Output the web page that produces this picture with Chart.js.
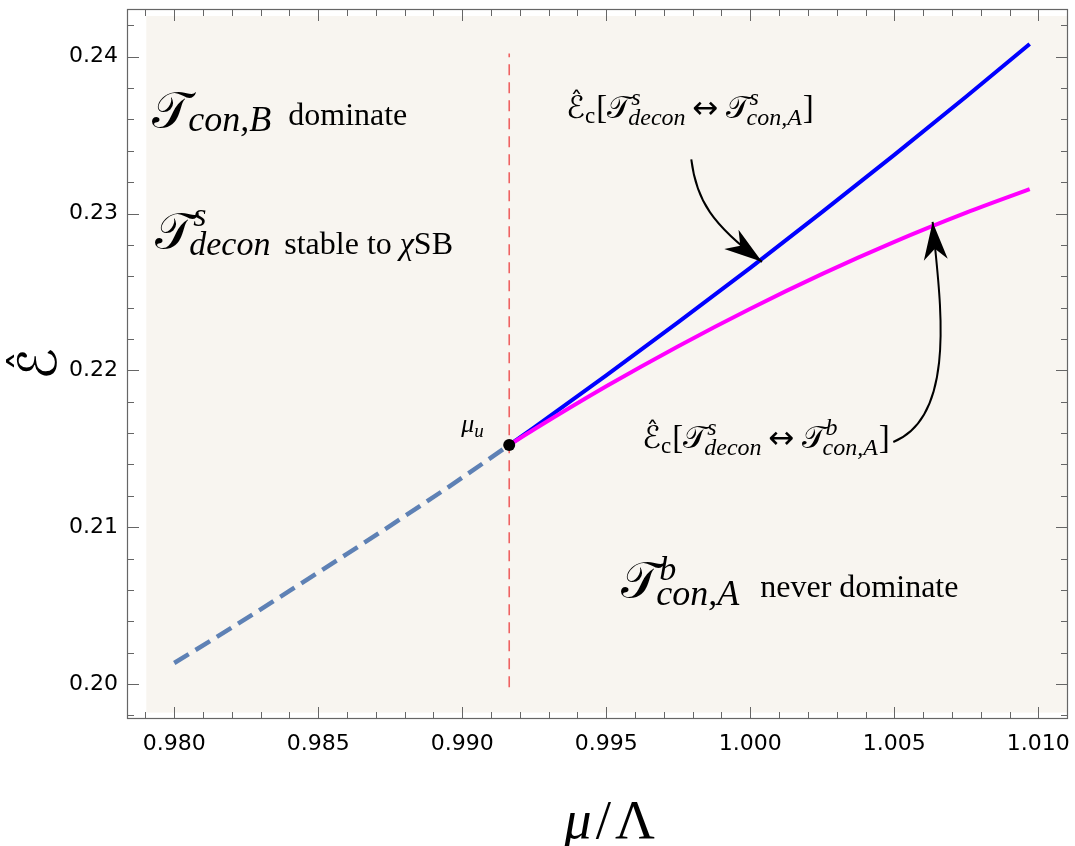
<!DOCTYPE html>
<html><head><meta charset="utf-8">
<script src="https://cdn.jsdelivr.net/npm/chart.js@4.4.1/dist/chart.umd.min.js"></script>
<style>html,body{margin:0;padding:0;background:#fff;} #wrap{width:1075px;height:846px;position:relative;}</style>
</head><body><div id="wrap"><canvas id="c" width="1075" height="846"></canvas></div>
<script>
// ---- data ----
const xTickValues = [0.980, 0.985, 0.990, 0.995, 1.000, 1.005, 1.010];
const xTickLabels = ["0.980", "0.985", "0.990", "0.995", "1.000", "1.005", "1.010"];
const yTickValues = [0.20, 0.21, 0.22, 0.23, 0.24];
const yTickLabels = ["0.20", "0.21", "0.22", "0.23", "0.24"];

const unstableMu = [0.9800, 0.9820, 0.9840, 0.9860, 0.9880, 0.9900, 0.99163];
const unstableE  = [0.20134, 0.20360, 0.20594, 0.20830, 0.21070, 0.21316, 0.21524];

const critMu = [0.99163, 0.9925, 0.9950, 0.9975, 1.0000, 1.0025, 1.0050, 1.0075, 1.0097];
const critSmallE = [0.21524, 0.21637, 0.21968, 0.22307, 0.22654, 0.23010, 0.23374, 0.23746, 0.24081];
const critBigE   = [0.21524, 0.21624, 0.21898, 0.22154, 0.22393, 0.22615, 0.22819, 0.23005, 0.23155];

const muU = [0.99163];
const eU = [0.21524];
const markerMu = [0.99163, 0.99163];
const markerE = [0.1998, 0.2402];

const xRange = [0.97836, 1.01103];
const yRange = [0.19777, 0.24304];
const bgRange = {x0: 0.97903, y0: 0.19818, y1: 0.24259};

const xMinor = []; for (let i = 979; i <= 1011; i++) xMinor.push(i / 1000);
const yMinor = []; for (let i = 99; i <= 121; i++) yMinor.push(i / 500);

const pts = (xs, ys) => xs.map((x, i) => ({x: x, y: ys[i]}));

// ---- fonts ----
const CALF = s => `${s}px "DejaVu Serif", "DejaVu Sans", "Noto Sans", serif`;
const HATF = s => `${s}px "DejaVu Sans"`;
const IT = s => `italic ${s}px "Liberation Serif"`;
const RM = s => `${s}px "Liberation Serif"`;
const SYM = s => `${s}px "DejaVu Sans"`;

function rich(ctx, x, y, parts) {
  let cx = x;
  for (const p of parts) {
    if (p.gap !== undefined) { cx += p.gap; continue; }
    if (p.sup || p.sub) {
      let w = 0;
      for (const q of [p.sup, p.sub]) if (q) {
        ctx.font = q.f;
        ctx.fillText(q.t, cx + (q.dx || 0), y + q.dy);
        w = Math.max(w, (q.dx || 0) + ctx.measureText(q.t).width);
      }
      cx += w; continue;
    }
    ctx.font = p.f;
    ctx.fillText(p.t, cx, y + (p.dy || 0));
    const w = ctx.measureText(p.t).width;
    if (p.hat) {
      ctx.font = HATF(Math.round(p.hat * 0.8));
      const hw = ctx.measureText('ˆ').width;
      ctx.fillText('ˆ', cx + w * 0.55 - hw / 2, y - p.hat * 0.3);
    }
    cx += w;
  }
}

const critLabel = (sup2) => [
  {t: 'ℰ', f: HATF(31), hat: 31}, {sub: {t: 'c', f: RM(23), dy: 5}}, {gap: 1}, {t: '[', f: RM(33)},
  {t: '𝒯', f: CALF(31)}, {sup: {t: 's', f: IT(24), dy: -13}, sub: {t: 'decon', f: IT(24), dy: 7, dx: -3}},
  {gap: 7}, {t: '↔', f: SYM(31)}, {gap: 7},
  {t: '𝒯', f: CALF(31)}, {sup: {t: sup2, f: IT(24), dy: -13}, sub: {t: 'con,A', f: IT(24), dy: 7, dx: -3}},
  {gap: 1}, {t: ']', f: RM(33)}];

const labels = [
  {x: 0.97924, y: 0.23550, parts: [{t: '𝒯', f: CALF(50)}, {sub: {t: 'con,B', f: IT(36), dy: 4, dx: -2}}]},
  {x: 0.983958, y: 0.235624, parts: [{t: 'dominate', f: RM(32)}]},
  {x: 0.97934, y: 0.22779, parts: [{t: '𝒯', f: CALF(50)}, {sup: {t: 's', f: IT(34), dy: -22}, sub: {t: 'decon', f: IT(34), dy: 7, dx: -4}}]},
  {x: 0.983819, y: 0.227408, parts: [{t: 'stable to ', f: RM(32)}, {t: 'χ', f: IT(32)}, {t: 'SB', f: RM(32)}]},
  {x: 0.993611, y: 0.236070, parts: critLabel('s')},
  {x: 0.99625, y: 0.215051, parts: critLabel('b')},
  {x: 0.995521, y: 0.205561, parts: [{t: '𝒯', f: CALF(50)}, {sup: {t: 'b', f: IT(34), dy: -17}, sub: {t: 'con,A', f: IT(36), dy: 8, dx: -3}}]},
  {x: 1.000347, y: 0.205561, parts: [{t: 'never dominate', f: RM(32)}]},
  {x: 0.989965, y: 0.216070, parts: [{t: 'μ', f: IT(26)}, {sub: {t: 'u', f: IT(19), dy: 5}}]}
];

const arrows = [
  [[0.997951, 0.233459], [0.998125, 0.230847], [0.998681, 0.229255], [1.000406, 0.226917]],
  [[1.004965, 0.215433], [1.007292, 0.217153], [1.006528, 0.225115], [1.006330, 0.229465]]
];

const decor = {
  id: 'decor',
  beforeDraw(chart) {
    const {ctx, chartArea: a, scales: {x, y}} = chart;
    ctx.save();
    ctx.fillStyle = '#fff';
    ctx.fillRect(0, 0, chart.width, chart.height);
    ctx.fillStyle = '#f8f5f0';
    const l = x.getPixelForValue(bgRange.x0), t = y.getPixelForValue(bgRange.y1), b = y.getPixelForValue(bgRange.y0);
    ctx.fillRect(l, t, a.right - l, b - t);
    ctx.restore();
  },
  afterDatasetsDraw(chart) {
    const {ctx, chartArea: a, scales: {x, y}} = chart;
    ctx.save();
    // frame
    ctx.strokeStyle = '#666';
    ctx.lineWidth = 1.2;
    ctx.strokeRect(a.left + 0.5, a.top + 0.5, a.right - a.left - 1, a.bottom - a.top - 1);
    ctx.beginPath();
    const tick = (v, len, horiz) => {
      if (horiz) {
        const px = Math.round(x.getPixelForValue(v)) + 0.5;
        ctx.moveTo(px, a.bottom); ctx.lineTo(px, a.bottom - len);
        ctx.moveTo(px, a.top); ctx.lineTo(px, a.top + len);
      } else {
        const py = Math.round(y.getPixelForValue(v)) + 0.5;
        ctx.moveTo(a.left, py); ctx.lineTo(a.left + len, py);
        ctx.moveTo(a.right, py); ctx.lineTo(a.right - len, py);
      }
    };
    xMinor.forEach(v => tick(v, 7, true));
    xTickValues.forEach(v => tick(v, 12, true));
    yMinor.forEach(v => tick(v, 7, false));
    yTickValues.forEach(v => tick(v, 12, false));
    ctx.lineWidth = 1;
    ctx.stroke();

    // arrows
    ctx.strokeStyle = '#000'; ctx.fillStyle = '#000'; ctx.lineWidth = 2;
    arrows.forEach(ar => {
      const P = ar.map(p => [x.getPixelForValue(p[0]), y.getPixelForValue(p[1])]);
      ctx.beginPath();
      ctx.moveTo(P[0][0], P[0][1]);
      ctx.bezierCurveTo(P[1][0], P[1][1], P[2][0], P[2][1], P[3][0], P[3][1]);
      ctx.stroke();
      let dx = P[3][0] - P[2][0], dy = P[3][1] - P[2][1];
      const n = Math.hypot(dx, dy); dx /= n; dy /= n;
      const L = 38, W = 12, N = 27;
      const tx = P[3][0], ty = P[3][1];
      ctx.beginPath();
      ctx.moveTo(tx, ty);
      ctx.lineTo(tx - L * dx - W * dy, ty - L * dy + W * dx);
      ctx.lineTo(tx - N * dx, ty - N * dy);
      ctx.lineTo(tx - L * dx + W * dy, ty - L * dy - W * dx);
      ctx.closePath();
      ctx.fill();
    });

    // text
    ctx.fillStyle = '#000';
    ctx.textBaseline = 'alphabetic';
    ctx.textAlign = 'left';
    labels.forEach(lb => rich(ctx, x.getPixelForValue(lb.x), y.getPixelForValue(lb.y), lb.parts));

    // x-axis title (mixed italic / upright)
    const cx = (a.left + a.right) / 2 + 12;
    const titleParts = [{t: 'μ', f: IT(55)}, {gap: 4}, {t: '/', f: RM(55)}, {gap: 4}, {t: 'Λ', f: RM(55)}];
    let w = 0;
    titleParts.forEach(p => { if (p.gap) w += p.gap; else { ctx.font = p.f; w += ctx.measureText(p.t).width; } });
    rich(ctx, cx - w / 2, 838, titleParts);

    // y-axis title, rotated
    ctx.save();
    ctx.translate(37, (a.top + a.bottom) / 2);
    ctx.rotate(-Math.PI / 2);
    ctx.textAlign = 'center';
    ctx.font = HATF(53);
    ctx.fillText('ℰ', 0, 19);
    ctx.font = HATF(42);
    ctx.fillText('ˆ', 3, 3);
    ctx.restore();
    ctx.restore();
  }
};

new Chart(document.getElementById('c'), {
  type: 'line',
  data: {
    datasets: [
      {data: pts(muU, eU), showLine: false, pointRadius: 6, pointBackgroundColor: '#000', pointBorderWidth: 0, order: 0},
      {data: pts(critMu, critBigE), borderColor: '#ff00ff', borderWidth: 4, pointRadius: 0, cubicInterpolationMode: 'monotone', order: 1},
      {data: pts(critMu, critSmallE), borderColor: '#0000ff', borderWidth: 4, pointRadius: 0, cubicInterpolationMode: 'monotone', order: 2},
      {data: pts(unstableMu, unstableE), borderColor: '#5e81b5', borderWidth: 4.5, borderDash: [17, 8], pointRadius: 0, cubicInterpolationMode: 'monotone', order: 3},
      {data: pts(markerMu, markerE), borderColor: '#ef6262', borderWidth: 1.6, borderDash: [11, 7], pointRadius: 0, order: 4}
    ]
  },
  options: {
    responsive: false,
    animation: false,
    devicePixelRatio: 1,
    layout: {padding: {left: 0, right: 7, top: 9, bottom: 0}},
    plugins: {legend: {display: false}, tooltip: {enabled: false}},
    scales: {
      x: {
        type: 'linear', min: xRange[0], max: xRange[1],
        afterBuildTicks: s => { s.ticks = xTickValues.map(v => ({value: v})); },
        afterFit: s => { s.height = 127; s.paddingLeft = 0; s.paddingRight = 0; s.paddingTop = 0; s.paddingBottom = 0; },
        ticks: {callback: (v, i) => xTickLabels[i], font: {family: 'DejaVu Sans', size: 22}, color: '#000', padding: 12, maxRotation: 0, autoSkip: false},
        grid: {display: false, drawTicks: false},
        border: {display: false},
        title: {display: false}
      },
      y: {
        type: 'linear', min: yRange[0], max: yRange[1],
        afterBuildTicks: s => { s.ticks = yTickValues.map(v => ({value: v})); },
        afterFit: s => { s.width = 127; s.paddingLeft = 0; s.paddingRight = 0; s.paddingTop = 0; s.paddingBottom = 0; },
        ticks: {callback: (v, i) => yTickLabels[i], font: {family: 'DejaVu Sans', size: 22}, color: '#000', padding: 9, autoSkip: false},
        grid: {display: false, drawTicks: false},
        border: {display: false},
        title: {display: false}
      }
    }
  },
  plugins: [decor]
});
</script></body></html>
